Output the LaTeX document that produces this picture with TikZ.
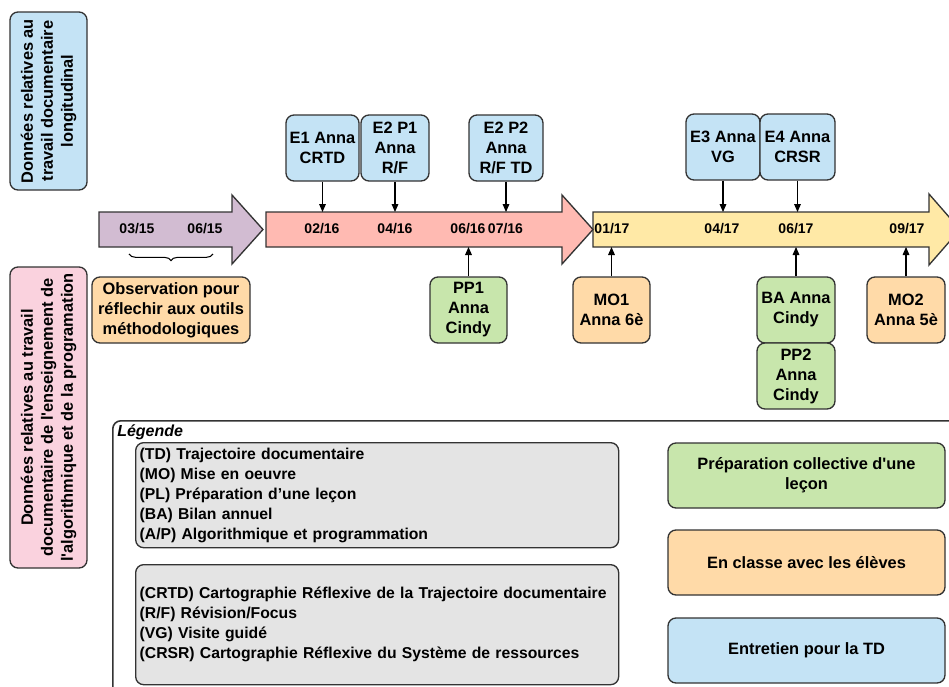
\documentclass[tikz,border=0pt]{standalone}
\usepackage{fontspec}
\setmainfont{Liberation Sans}[Ligatures=TeXOff]
\usetikzlibrary{arrows.meta, decorations.pathreplacing}
\definecolor{linegray}{RGB}{51,51,51}
\definecolor{bluebox}{RGB}{196,227,245}
\definecolor{pinkbox}{RGB}{250,210,222}
\definecolor{orangebox}{RGB}{255,218,168}
\definecolor{greenbox}{RGB}{200,230,172}
\definecolor{graybox}{RGB}{228,228,228}
\definecolor{purplearrow}{RGB}{210,188,210}
\definecolor{salmonarrow}{RGB}{255,186,178}
\definecolor{yellowarrow}{RGB}{255,233,166}
\tikzset{
    %Define standard arrow tip
    >={Triangle[length=6pt,width=5pt]},
}

\begin{document}
\begin{tikzpicture}[x=0.75pt, y=-0.75pt,
    box/.style = {draw=linegray, line width=1pt, rounded corners=6pt,
                  align=center, inner sep=1pt,
                  font=\fontsize{12.3}{15}\selectfont\bfseries},
    ev/.style = {box, minimum width=#1*0.75pt, minimum height=49.5pt},
    entretien/.style = {ev=#1, fill=bluebox},
    classe/.style = {ev=#1, fill=orangebox},
    prep/.style = {ev=#1, fill=greenbox},
    date/.style = {inner sep=0pt, font=\fontsize{10.5}{12}\selectfont\bfseries},
    side/.style = {box, rotate=90, minimum height=57.75pt},
    abbr/.style = {box, fill=graybox, anchor=north west, align=left,
                   text width=356.25pt, inner xsep=3pt,
                   font=\fontsize{11.8}{15}\selectfont\bfseries},
    leg/.style = {box, minimum width=207.75pt, minimum height=48.75pt},
    tl/.style = {draw=linegray, line width=1pt},
    link/.style = {->, line width=0.8pt, draw=black},
  ]
  \useasboundingbox (0,0) rectangle (949,686);
  \clip (0,0) rectangle (949,686);

  % side labels
  \node[side, fill=bluebox, minimum width=133.5pt] (sidelong) at (48.5,101)
    {Données relatives au\\travail documentaire\\longitudinal};
  \node[side, fill=pinkbox, minimum width=225.75pt] (sideenseign) at (48.5,417.5)
    {Données relatives au travail\\documentaire de l'enseignement de\\l'algorithmique et de la programation};

  % timeline
  \filldraw[tl, fill=yellowarrow] (593,212) -- (929,212) -- (929,194) -- (960,229.5)
    -- (929,265) -- (929,247) -- (593,247) -- cycle;
  \filldraw[tl, fill=salmonarrow] (266,212) -- (562,212) -- (562,195) -- (593,229.5)
    -- (562,264) -- (562,247) -- (266,247) -- cycle;
  \filldraw[tl, fill=purplearrow] (99,212) -- (232,212) -- (232,195) -- (263,229.5)
    -- (232,264) -- (232,247) -- (99,247) -- cycle;
  \coordinate (tltop) at (0,212);
  \coordinate (tlbot) at (0,247);

  \node[date] (d0315) at (137,229) {03/15};
  \node[date] (d0615) at (205,229) {06/15};
  \node[date] (d0216) at (322,229) {02/16};
  \node[date] (d0416) at (395,229) {04/16};
  \node[date] (d0616) at (468,229) {06/16};
  \node[date] (d0716) at (505.5,229) {07/16};
  \node[date] (d0117) at (612,229) {01/17};
  \node[date] (d0417) at (722,229) {04/17};
  \node[date] (d0617) at (796,229) {06/17};
  \node[date] (d0917) at (907,229) {09/17};

  % observation
  \draw[line width=0.8pt, draw=black, decorate, decoration={brace, mirror, amplitude=5pt}]
    (129,254) -- (213,254);
  \node[box, fill=orangebox, minimum width=118.5pt, minimum height=49.5pt] (observ) at (171,310)
    {Observation pour\\réflechir aux outils\\méthodologiques};

  % entretiens
  \node[entretien=73] (e1) at (322.5,148) {E1 Anna\\CRTD};
  \node[entretien=68] (e2p1) at (395,148) {E2 P1\\Anna\\R/F};
  \node[entretien=74] (e2p2) at (506,148) {E2 P2\\Anna\\R/F TD};
  \node[entretien=74] (e3) at (723,147) {E3 Anna\\VG};
  \node[entretien=75] (e4) at (797.5,147) {E4 Anna\\CRSR};

  % en classe / preparation
  \node[prep=77] (pp1) at (468.5,310) {PP1\\Anna\\Cindy};
  \node[classe=77] (mo1) at (611.5,310) {MO1\\Anna 6è};
  \node[prep=78] (ba) at (796,310) {BA Anna\\Cindy};
  \node[prep=78] (pp2) at (796,376) {PP2\\Anna\\Cindy};
  \node[classe=78] (mo2) at (906,310) {MO2\\Anna 5è};

  \draw[link] (e1) -- (e1 |- tltop);
  \draw[link] (e2p1) -- (e2p1 |- tltop);
  \draw[link] (e2p2) -- (e2p2 |- tltop);
  \draw[link] (e3) -- (e3 |- tltop);
  \draw[link] (e4) -- (e4 |- tltop);
  \draw[link] (pp1) -- (pp1 |- tlbot);
  \draw[link] (mo1) -- (mo1 |- tlbot);
  \draw[link] (ba) -- (ba |- tlbot);
  \draw[link] (mo2) -- (mo2 |- tlbot);

  % legende
  \node[draw=linegray, line width=1.2pt, rounded corners=6pt, anchor=north west,
        minimum width=700pt, minimum height=250pt] (legende) at (112,420) {};
  \node[anchor=west, inner sep=0pt, font=\fontsize{12}{15}\selectfont\bfseries\itshape]
    (legtitle) at (117,432) {Légende};
  \node[abbr, minimum height=78.75pt] (abbr1) at (135,442)
    {(TD) Trajectoire documentaire\\(MO) Mise en oeuvre\\(PL) Préparation d’une leçon\\(BA) Bilan annuel\\(A/P) Algorithmique et programmation};
  \node[abbr, minimum height=90pt] (abbr2) at (135,564)
    {(CRTD) Cartographie Réflexive de la Trajectoire documentaire\\(R/F) Révision/Focus\\(VG) Visite guidé\\(CRSR) Cartographie Réflexive du Système de ressources};
  \node[leg, fill=greenbox] (legprep) at (806.5,475.5) {Préparation collective d'une\\leçon};
  \node[leg, fill=orangebox] (legclasse) at (806.5,562.5) {En classe avec les élèves};
  \node[leg, fill=bluebox] (legentretien) at (806.5,650.5) {Entretien pour la TD};
\end{tikzpicture}
\end{document}
